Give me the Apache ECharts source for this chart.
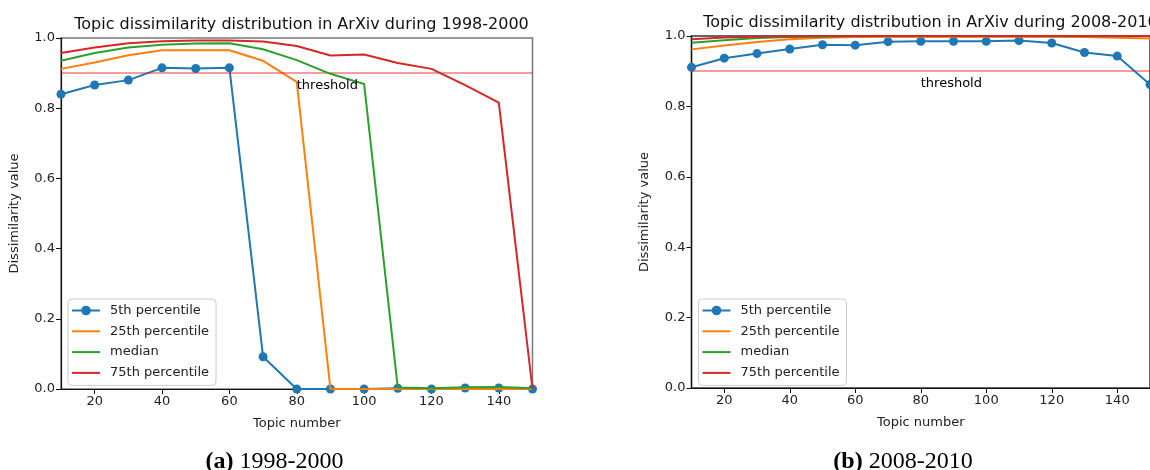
<!DOCTYPE html>
<html>
<head>
<meta charset="utf-8">
<script src="https://cdn.jsdelivr.net/npm/echarts@6/dist/echarts.min.js"></script>
<style>
html,body{margin:0;padding:0;background:#fff;}
#c{width:1150px;height:470px;}
</style>
</head>
<body>
<div id="c"></div>
<script>
// ---- data ----
const topicNumbers = [10,20,30,40,50,60,70,80,90,100,110,120,130,140,150];
const xTickValues = [20,40,60,80,100,120,140];
const yTickValues = [0,0.2,0.4,0.6,0.8,1.0];
const seriesNames = ['5th percentile','25th percentile','median','75th percentile'];

const left5   = [0.840,0.866,0.880,0.915,0.913,0.915,0.092,0.000,0.000,0.000,0.002,0.000,0.003,0.003,0.000];
const left25  = [0.912,0.930,0.951,0.965,0.965,0.965,0.935,0.875,0.000,0.000,0.000,0.000,0.000,0.000,0.000];
const leftMed = [0.935,0.957,0.973,0.981,0.984,0.985,0.968,0.937,0.898,0.869,0.004,0.002,0.005,0.006,0.002];
const left75  = [0.957,0.973,0.985,0.991,0.993,0.993,0.990,0.977,0.950,0.953,0.929,0.912,0.866,0.816,0.000];

const right5   = [0.911,0.937,0.950,0.963,0.975,0.974,0.984,0.985,0.985,0.985,0.987,0.980,0.953,0.943,0.862];
const right25  = [0.962,0.973,0.983,0.991,0.995,0.997,0.998,0.998,0.998,0.998,0.998,0.998,0.997,0.995,0.993];
const rightMed = [0.981,0.988,0.994,0.997,0.998,0.999,0.999,0.999,0.999,0.999,0.999,0.999,0.999,0.999,0.999];
const right75  = [0.991,0.996,0.998,0.999,1.000,1.000,1.000,1.000,1.000,1.000,1.000,1.000,1.000,1.000,1.000];

const thresholdValue = 0.9;
const thresholdLabelAt = [80, 0.864];

const titles = ['Topic dissimilarity distribution in ArXiv during 1998-2000',
                'Topic dissimilarity distribution in ArXiv during 2008-2010'];
const captions = [['(a)','1998-2000'],['(b)','2008-2010']];

// ---- chart ----
const colors = ['#1f77b4','#ff7f0e','#2ca02c','#d62728'];
const font = 'DejaVu Sans';
const lineIcon = 'path://M0,0 M28,12 M0,5 L28,5 L28,7 L0,7 Z';
const grids = [
  {left:61, top:38, width:471.5, height:351, show:true, borderColor:'#7a7a7a', borderWidth:1.5, backgroundColor:'transparent'},
  {left:691.5, top:36, width:469, height:352, show:true, borderColor:'#333', borderWidth:1.5, backgroundColor:'transparent'}
];
function xAx(i){
  return {type:'value', gridIndex:i, min:10, max:150,
    name:'Topic number', nameLocation:'middle', nameGap:28,
    nameTextStyle:{fontFamily:font, fontSize:13, color:'#222'},
    axisLine:{show:true, onZero:false, lineStyle:{color:'#111', width:1.2}},
    axisTick:{show:true, length:5, customValues:xTickValues, lineStyle:{color:'#111'}},
    axisLabel:{customValues:xTickValues, fontFamily:font, fontSize:13, color:'#222', margin:6},
    splitLine:{show:false}};
}
function yAx(i){
  return {type:'value', gridIndex:i, min:0, max:1, interval:0.2,
    name:'Dissimilarity value', nameLocation:'middle', nameGap:40,
    nameTextStyle:{fontFamily:font, fontSize:13, color:'#222'},
    axisLine:{show:true, lineStyle:{color:'#111', width:1.2}},
    axisTick:{show:true, length:5, customValues:yTickValues, lineStyle:{color:'#111'}},
    axisLabel:{customValues:yTickValues, fontFamily:font, fontSize:13, color:'#222', margin:6,
      formatter:v=>v.toFixed(1)},
    splitLine:{show:false}};
}
function pairs(arr){ return topicNumbers.map((x,k)=>[x,arr[k]]); }
function lineSeries(name, arr, idx, ci){
  return {name:name, type:'line', xAxisIndex:idx, yAxisIndex:idx, data:pairs(arr),
    color:colors[ci], lineStyle:{width:2, color:colors[ci]},
    symbol: ci===0 ? 'circle' : 'none', symbolSize:9, showSymbol: ci===0,
    itemStyle:{color:colors[ci]}, animation:false, z: 3+ci, clip:true};
}
function thresholdSeries(idx){
  return {name:'threshold', type:'scatter', xAxisIndex:idx, yAxisIndex:idx,
    data:[thresholdLabelAt], symbolSize:0, silent:true, animation:false,
    itemStyle:{opacity:1},
    label:{show:true, position:'right', distance:0, formatter:'threshold',
      fontFamily:font, fontSize:13, color:'#000', opacity:1},
    markLine:{silent:true, symbol:'none', animation:false, label:{show:false},
      lineStyle:{color:'rgba(214,39,40,0.6)', width:1.5, type:'solid'},
      data:[{yAxis:thresholdValue}]}, z:8};
}
const series = [];
const sets = [[left5,left25,leftMed,left75],[right5,right25,rightMed,right75]];
[0,1].forEach(i=>{
  series.push(thresholdSeries(i));
  sets[i].forEach((arr,ci)=>series.push(lineSeries(seriesNames[ci], arr, i, ci)));
});
function legend(left){
  return {show:true, orient:'vertical', left:left, top:299,
    data: seriesNames.map((n,k)=> k===0 ? {name:n} : {name:n, icon:lineIcon}),
    itemWidth:28, itemHeight:12, itemGap:7.8, padding:[5,7,6,3],
    backgroundColor:'rgba(255,255,255,0.85)', borderColor:'#cccccc', borderWidth:1, borderRadius:4,
    textStyle:{fontFamily:font, fontSize:13, color:'#222', padding:[0,0,0,5]},
    selectedMode:false};
}
const capStyle = {fontFamily:'Liberation Serif', fontSize:24, fontWeight:'normal', color:'#000',
  rich:{b:{fontFamily:'Liberation Serif', fontSize:24, fontWeight:'bold', color:'#000'}}};
const titleComps = [
  {text:titles[0], left:296.5, top:12, textAlign:'center', textStyle:{fontFamily:font, fontSize:16, fontWeight:'normal', color:'#111'}},
  {text:titles[1], left:925.5, top:10, textAlign:'center', textStyle:{fontFamily:font, fontSize:16, fontWeight:'normal', color:'#111'}},
  {text:'{b|'+captions[0][0]+'} '+captions[0][1], left:269.5, top:445, textAlign:'center', textStyle:capStyle},
  {text:'{b|'+captions[1][0]+'} '+captions[1][1], left:898, top:445, textAlign:'center', textStyle:capStyle}
];
const chart = echarts.init(document.getElementById('c'), null, {renderer:'canvas'});
chart.setOption({
  animation:false,
  backgroundColor:'#fff',
  title:titleComps,
  grid:grids,
  xAxis:[xAx(0), xAx(1)],
  yAxis:[yAx(0), yAx(1)],
  legend:[legend(68), legend(698.5)],
  series:series
});
</script>
</body>
</html>
